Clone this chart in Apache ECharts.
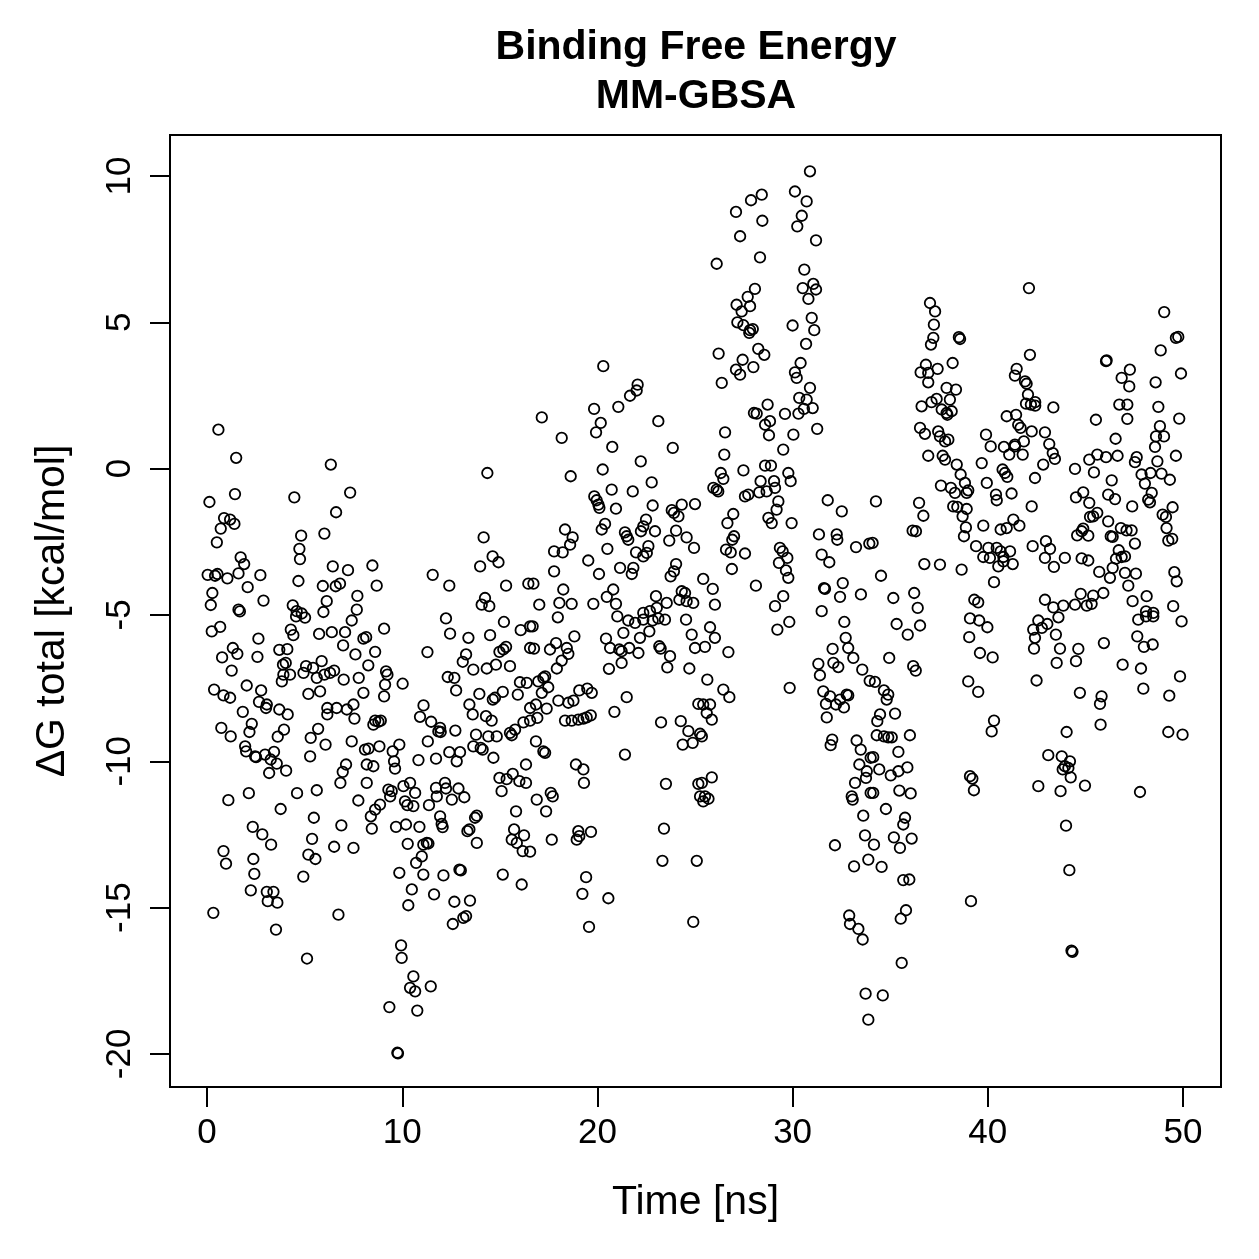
<!DOCTYPE html>
<html>
<head>
<meta charset="utf-8">
<title>Binding Free Energy MM-GBSA</title>
<script src="https://cdn.jsdelivr.net/npm/echarts@6/dist/echarts.min.js"></script>
<style>
  html, body { margin: 0; padding: 0; background: #fff; }
  #chart { width: 1259px; height: 1259px; }
</style>
</head>
<body>
<div id="chart"></div>
<script>
// [time (ns), dG total (kcal/mol)], grouped by time window
const frames00to08 = [
  [0.58,1.33],[1.49,0.37],[6.34,0.14],[7.33,-0.82],[4.47,-0.98],[0.12,-1.14],[1.43,-0.87],[6.61,-1.49],
  [0.87,-1.69],[1.18,-1.74],[1.40,-1.89],[0.70,-2.05],[0.50,-2.52],[4.82,-2.29],[6.01,-2.22],[4.73,-2.74],
  [4.76,-3.09],[1.72,-3.03],[1.90,-3.26],[6.44,-3.34],[7.22,-3.47],[0.03,-3.63],[0.53,-3.60],[0.41,-3.66],
  [1.04,-3.75],[1.61,-3.58],[2.73,-3.64],[4.68,-3.84],[2.08,-4.05],[5.93,-4.01],[6.59,-4.02],[6.81,-3.93],
  [0.27,-4.25],[7.70,-4.35],[2.89,-4.51],[6.13,-4.53],[0.19,-4.66],[1.61,-4.82],[1.68,-4.88],[4.39,-4.67],
  [4.59,-4.87],[4.85,-4.95],[5.96,-4.90],[7.67,-4.82],
  [4.56,-5.05],[5.02,-5.09],[7.41,-5.19],[0.24,-5.56],[0.67,-5.41],[4.29,-5.50],[4.42,-5.69],[5.74,-5.65],
  [6.39,-5.59],[7.07,-5.59],[6.97,-6.04],[2.63,-5.81],[1.32,-6.13],[1.55,-6.33],[0.77,-6.45],[2.58,-6.43],
  [3.70,-6.19],[4.11,-6.17],[7.60,-6.35],[4.03,-6.64],[3.89,-6.70],[5.87,-6.58],[5.07,-6.75],[5.43,-6.81],
  [6.51,-6.90],[6.30,-6.98],[1.26,-6.90],[4.94,-6.98],[5.62,-7.15],[6.01,-7.04],[3.91,-7.04],[4.25,-7.04],
  [3.83,-7.27],[7.00,-7.21],[7.77,-7.15],[0.36,-7.55],[2.03,-7.41],[2.77,-7.58],[0.84,-7.75],[1.18,-7.83],
  [5.19,-7.70],[5.79,-7.61],[2.66,-7.97],[3.06,-8.06],[3.02,-8.18],[3.70,-8.23],[4.13,-8.40],[6.16,-8.18],
  [6.64,-8.18],[6.16,-8.40],[7.16,-8.23],[7.50,-8.06],[7.55,-8.54],[1.83,-8.31],[2.29,-8.72],[2.17,-9.00],
  [0.73,-8.86],[1.21,-9.15],[3.94,-8.92],[3.62,-9.16],[5.69,-8.89],[5.31,-9.20],[6.07,-9.43],[7.41,-9.32],
  [1.95,-9.49],[2.00,-9.66],[2.46,-9.83],[2.51,-9.86],[2.97,-9.77],[3.43,-9.68],[3.26,-9.94],[3.57,-10.08],
  [3.18,-10.40],[4.05,-10.32],[5.28,-9.83],[7.12,-10.11],[6.95,-10.36],[6.83,-10.74],[2.14,-11.09],[1.09,-11.33],
  [4.61,-11.09],[5.62,-10.99],[3.77,-11.63],[7.75,-11.34],[5.47,-11.93],[6.88,-12.19],[2.34,-12.24],[2.83,-12.50],
  [3.28,-12.85],[5.38,-12.65],[6.51,-12.92],[7.50,-12.96],[0.84,-13.07],[0.97,-13.50],[2.37,-13.34],[2.42,-13.85],
  [5.19,-13.19],[5.55,-13.34],[4.93,-13.94],[2.24,-14.41],[3.06,-14.46],[3.40,-14.46],[3.11,-14.78],[3.60,-14.83],
  [0.32,-15.18],[6.73,-15.24],[3.53,-15.75],[5.12,-16.74]
];

const frames08to17 = [
  [14.36,-0.15],[14.17,-2.35],[14.63,-3.00],[14.93,-3.20],[13.99,-3.34],[8.47,-3.31],[8.69,-4.00],[11.56,-3.63],
  [12.41,-4.00],[15.32,-4.00],[16.46,-3.93],[14.24,-4.42],[14.07,-4.65],[14.46,-4.70],
  [12.24,-5.12],[15.21,-5.24],[16.07,-5.52],[16.55,-5.39],[9.07,-5.47],[12.45,-5.64],[13.39,-5.78],[14.50,-5.69],
  [8.01,-5.81],[8.15,-5.76],[8.61,-6.26],[11.29,-6.27],[15.32,-6.09],[15.18,-6.18],[14.98,-6.26],[16.55,-6.13],
  [13.27,-6.35],[13.10,-6.60],[13.64,-6.87],[14.33,-6.83],[14.80,-6.70],[15.52,-6.75],[8.26,-6.72],[9.17,-6.93],
  [9.24,-7.04],[9.12,-7.38],[9.07,-7.78],[10.02,-7.35],[12.33,-7.12],[12.67,-7.15],[12.76,-7.58],[13.95,-7.70],
  [14.75,-7.83],[14.64,-7.89],[15.15,-7.63],[15.92,-7.72],[16.03,-7.30],[16.38,-7.32],[8.01,-7.66],[11.09,-8.09],
  [10.91,-8.48],[11.48,-8.65],[11.94,-8.86],[11.85,-8.98],[11.97,-9.00],[12.72,-8.95],[13.44,-8.06],[13.61,-8.40],
  [14.29,-8.46],[14.58,-8.61],[16.21,-8.67],[16.55,-8.61],[16.55,-8.18],[8.61,-8.61],[8.78,-8.65],[8.90,-8.61],
  [8.52,-8.75],[13.78,-9.09],[14.41,-9.15],[14.84,-9.15],[15.52,-9.03],[15.61,-9.11],[15.78,-8.92],[11.31,-9.32],
  [13.64,-9.49],[14.02,-9.54],[14.12,-9.60],[14.67,-9.88],[12.41,-9.69],[12.96,-9.69],[12.79,-10.00],[11.73,-9.91],
  [10.83,-9.96],[9.85,-9.43],[9.51,-9.66],[9.58,-10.00],[9.63,-10.25],[8.83,-9.49],[8.09,-9.60],[8.27,-9.57],
  [8.18,-10.11],[8.52,-10.17],[8.18,-10.74],[16.34,-10.11],[14.98,-10.57],[15.35,-10.61],[15.66,-10.43],[16.00,-10.68],
  [16.34,-10.74],[15.09,-11.02],[9.29,-10.97],[9.46,-11.02],[9.38,-11.20],[10.06,-10.85],[10.40,-10.74],[10.66,-11.08],
  [10.14,-11.37],[10.26,-11.50],[10.57,-11.53],[8.86,-11.48],[8.61,-11.65],[8.39,-11.88],[8.44,-12.30],[11.73,-10.91],
  [12.19,-10.74],[12.24,-10.93],[11.77,-11.20],[12.54,-11.31],[12.88,-10.93],[13.18,-11.23],[11.37,-11.50],[11.94,-11.88],
  [12.02,-12.14],[12.07,-12.25],[13.82,-11.86],[13.73,-11.93],[13.34,-12.39],[13.44,-12.33],[13.82,-12.79],[15.83,-11.71],
  [15.73,-12.33],[15.61,-12.68],[15.87,-12.79],[16.24,-12.53],[16.17,-13.07],[16.55,-13.09],[9.68,-12.24],[10.19,-12.16],
  [10.88,-12.24],[10.28,-12.82],[11.08,-12.85],[11.26,-12.79],[11.34,-12.81],[11.00,-13.25],[10.71,-13.47],[9.85,-13.81],
  [11.08,-13.87],[12.11,-13.90],[12.93,-13.70],[13.00,-13.73],[15.15,-13.87],[16.12,-14.21],[10.49,-14.38],[11.63,-14.55],
  [10.31,-14.92],[12.67,-14.80],[13.47,-14.76],[13.27,-15.29],[13.13,-15.35],[12.59,-15.56],[9.94,-16.29],[9.97,-16.72],
  [10.57,-17.35],[10.40,-17.74],[10.66,-17.86],[11.46,-17.69],[9.34,-18.40],[10.77,-18.52],[9.75,-19.96],[9.78,-19.98]
];

const frames17to25 = [
  [20.30,3.50],[22.06,2.87],[22.01,2.67],[21.67,2.49],[19.83,2.04],[21.07,2.11],[20.17,1.56],[19.93,1.24],
  [17.15,1.75],[23.12,1.62],[18.17,1.05],[20.76,0.74],[23.86,0.71],[22.22,0.25],[20.27,-0.03],[18.63,-0.26],
  [22.78,-0.47],[20.73,-0.72],[21.81,-0.78],[19.84,-0.95],[19.96,-1.08],[20.05,-1.23],[20.10,-1.34],[20.95,-1.37],
  [22.83,-1.26],[23.81,-1.42],[23.92,-1.51],[24.15,-1.63],[24.32,-1.23],[25.00,-1.21],[18.34,-2.08],[18.73,-2.35],
  [18.60,-2.60],[18.22,-2.86],[17.78,-2.83],[20.39,-1.89],[20.22,-2.08],[21.41,-2.18],[21.50,-2.31],[21.58,-2.43],
  [22.49,-1.74],[22.35,-1.97],[22.23,-2.14],[22.95,-2.14],[24.03,-2.12],[23.68,-2.46],[24.57,-2.35],[24.95,-2.71],
  [20.51,-2.74],[22.61,-2.65],[22.53,-2.88],[22.35,-3.00],[21.98,-2.86],[19.53,-3.14],[17.78,-3.51],[20.08,-3.60],
  [21.16,-3.39],[21.84,-3.39],[21.76,-3.60],[24.03,-3.26],[23.92,-3.51],[23.75,-3.68],[16.72,-3.93],[18.25,-4.13],
  [20.81,-4.13],[20.48,-4.38],[17.02,-4.65],[18.05,-4.59],[18.68,-4.62],[19.79,-4.62],[20.95,-4.62],[23.00,-4.36],
  [23.55,-4.59],[24.32,-4.19],[24.49,-4.25],[24.20,-4.48],[24.57,-4.53],[24.91,-4.59],[22.69,-4.87],[23.04,-4.76],
  [22.35,-4.93],
  [17.97,-5.08],[21.02,-5.05],[16.68,-5.39],[21.58,-5.19],[21.93,-5.27],[22.35,-5.16],[22.83,-5.19],[23.12,-5.12],
  [23.46,-5.16],[22.66,-5.56],[22.18,-5.78],[24.54,-5.16],[21.33,-5.61],[20.44,-5.81],[20.65,-6.13],[21.12,-6.18],
  [21.24,-6.24],[21.63,-6.13],[22.10,-6.30],[21.24,-6.64],[20.59,-6.84],[23.17,-6.07],[23.24,-6.15],[23.72,-6.41],
  [23.58,-6.79],[24.83,-5.67],[25.00,-6.13],[24.71,-6.83],[18.82,-5.73],[18.43,-6.13],[18.51,-6.33],[18.17,-6.56],
  [17.92,-6.83],[17.88,-5.96],[17.57,-6.18],[16.75,-6.15],[17.32,-7.10],[17.23,-7.15],[17.48,-7.47],[17.15,-7.66],
  [16.97,-7.27],[18.00,-7.93],[18.51,-8.00],[18.77,-7.93],[19.07,-7.58],[19.48,-7.52],[19.71,-7.66],[16.85,-8.06],
  [17.40,-8.20],[16.92,-8.52],[18.34,-8.61],[18.68,-8.61],[19.02,-8.58],[19.28,-8.54],[19.45,-8.50],[19.66,-8.43],
  [21.50,-7.81],[20.87,-8.31],[23.26,-8.67],[24.27,-8.63],[24.66,-8.97],[24.37,-9.43],[24.88,-9.37],[25.26,-9.06],
  [25.17,-8.04],[16.85,-9.32],[17.23,-9.66],[17.32,-9.71],[18.90,-10.11],[19.28,-10.28],[19.31,-10.74],[21.41,-9.77],
  [23.51,-10.77],[25.17,-10.77],[25.26,-11.20],[16.89,-11.31],[17.37,-11.71],[17.61,-11.08],[17.71,-11.20],[19.02,-12.39],
  [19.07,-12.56],[18.94,-12.68],[19.67,-12.41],[17.66,-12.68],[23.41,-12.30],[23.33,-13.40],[25.09,-13.40],[19.42,-13.96],
  [19.23,-14.53],[20.56,-14.68],[19.57,-15.66],[24.91,-15.49]
];

const frames25to34 = [
  [30.89,10.16],[30.12,9.47],[30.72,9.13],[30.47,8.64],[30.24,8.28],[31.20,7.80],[28.42,9.36],[27.87,9.17],
  [27.10,8.77],[28.45,8.47],[27.31,7.94],[26.11,7.00],[28.33,7.22],[30.60,6.80],[30.52,6.17],[31.06,6.31],
  [31.20,6.12],[30.81,5.80],[28.07,6.14],[27.70,5.87],[27.13,5.60],[27.39,5.37],[27.82,5.55],[30.98,5.15],
  [31.11,4.73],[30.00,4.89],[27.17,5.00],[27.48,4.90],[27.82,4.73],[27.96,4.77],[27.78,4.64],[30.69,4.26],
  [26.21,3.93],[28.24,4.09],[28.55,3.89],[27.44,3.72],[27.10,3.38],[27.31,3.21],[27.99,3.47],[30.41,3.61],
  [30.12,3.29],[30.21,3.10],[26.37,2.93],[30.89,2.76],[30.34,2.42],[30.72,2.36],[31.03,2.07],[30.30,1.88],
  [30.58,2.04],[28.72,2.19],[28.02,1.90],[28.16,1.88],[29.61,1.87],[28.84,1.62],[28.59,1.50],[28.79,1.14],
  [30.04,1.16],[31.26,1.36],[26.54,1.24],[29.52,0.65],[26.50,0.48],[28.59,0.10],[28.89,0.10],[28.36,-0.43],
  [29.05,-0.43],[29.78,-0.15],[29.90,-0.43],[27.48,-0.06],[26.32,-0.15],[26.45,-0.35],[25.94,-0.66],[26.11,-0.72],
  [26.19,-0.78],[27.56,-0.95],[27.73,-0.89],[28.29,-0.81],[28.67,-0.78],[29.10,-0.66],[29.27,-1.12],[29.18,-1.40],
  [28.76,-1.68],[28.93,-1.86],[29.95,-1.86],[31.80,-1.08],[32.52,-1.46],[26.96,-1.55],[26.66,-1.86],[27.00,-2.31],
  [26.91,-2.43],[26.59,-2.77],[26.83,-2.86],[27.56,-2.90],[26.89,-3.43],[29.35,-2.71],[29.49,-2.83],[29.73,-3.05],
  [29.30,-3.22],[29.66,-3.48],[29.78,-3.73],[31.35,-2.25],[32.26,-2.25],[32.29,-2.43],[33.25,-2.68],[33.93,-2.56],
  [31.49,-2.94],[31.88,-3.20],[25.42,-3.77],[25.91,-4.11],[26.02,-4.65],[28.12,-4.00],[29.52,-4.36],[29.10,-4.70],
  [31.61,-4.08],[31.66,-4.11],[32.57,-3.91],[32.43,-4.38],[33.50,-4.30],[31.49,-4.87],
  [29.22,-5.50],[29.83,-5.24],[25.77,-5.42],[26.02,-5.78],[25.51,-6.09],[26.71,-6.27],[25.63,-7.21],[26.45,-7.55],
  [26.76,-7.81],[25.42,-8.06],[25.77,-8.06],[25.60,-8.35],[25.86,-8.58],[25.35,-9.15],[29.85,-7.49],[32.65,-5.24],
  [32.72,-5.78],[32.85,-6.13],[32.05,-6.16],[33.11,-6.47],[33.57,-6.87],[31.32,-6.67],[31.40,-7.06],[32.09,-6.64],
  [32.34,-6.78],[31.57,-7.61],[31.92,-7.78],[31.71,-8.04],[32.22,-8.06],[32.43,-7.89],[32.63,-8.16],[32.77,-7.72],
  [32.85,-7.75],[31.75,-8.50],[33.95,-7.25],[32.03,-9.26],[31.95,-9.45],[33.28,-9.29],[33.49,-9.60],[33.42,-10.11],
  [33.80,-10.34],[33.76,-10.57],[33.20,-10.74],[34.00,-9.88],[33.03,-11.20],[33.08,-11.31],[34.00,-11.08],[25.86,-10.55],
  [25.35,-10.74],[25.51,-11.20],[25.69,-11.28],[25.42,-11.37],[33.62,-11.86],[32.17,-12.87],[33.71,-12.53],[33.15,-13.59],
  [33.88,-13.36],[32.90,-15.27],[32.94,-15.56],[33.37,-15.73],[33.59,-16.09],[33.74,-17.94],[33.88,-18.83]
];

const frames34to43 = [
  [42.11,6.17],[37.04,5.66],[37.30,5.37],[37.24,4.92],[37.21,4.47],[37.09,4.24],[38.52,4.49],[38.58,4.43],
  [42.16,3.89],[36.83,3.55],[36.56,3.29],[36.95,3.27],[37.43,3.41],[36.95,2.95],[38.20,3.61],[41.48,3.41],
  [41.39,3.18],[41.91,2.98],[41.99,2.90],[37.89,2.76],[38.37,2.70],[37.38,2.38],[37.12,2.27],[38.06,2.36],
  [36.61,2.13],[37.64,2.02],[37.89,1.90],[37.93,1.84],[38.15,1.96],[42.06,2.53],[41.96,2.22],[42.21,2.19],
  [42.43,2.27],[42.43,2.15],[40.97,1.79],[41.45,1.84],[41.56,1.50],[41.68,1.39],[42.25,1.27],[41.85,0.93],
  [41.39,0.76],[41.79,0.48],[36.53,1.39],[36.78,1.19],[37.46,1.27],[37.55,1.10],[37.81,0.93],[37.98,0.99],
  [36.95,0.44],[37.69,0.44],[37.81,0.31],[38.41,0.14],[38.61,-0.20],[38.83,-0.49],[39.00,-0.74],[38.92,-0.83],
  [39.91,1.16],[40.15,0.76],[40.83,0.74],[41.10,0.48],[41.39,0.82],[39.69,0.19],[40.76,-0.03],[40.88,-0.15],
  [41.00,-0.28],[39.95,-0.49],[40.42,-0.89],[40.46,-1.08],[41.22,-0.85],[42.42,-0.32],[37.60,-0.58],[38.11,-0.66],
  [38.32,-0.83],[38.23,-1.29],[38.44,-1.31],[38.92,-1.38],[38.71,-1.63],[38.88,-2.01],[38.78,-2.31],[36.48,-1.17],
  [36.70,-1.61],[36.15,-2.12],[36.32,-2.14],[34.27,-1.12],[34.10,-2.54],[34.53,-3.66],[35.16,-4.42],[36.23,-4.25],
  [36.41,-4.76],[36.75,-3.26],[37.55,-3.28],[38.66,-3.45],[39.77,-1.95],[39.40,-2.65],[39.77,-3.02],[40.03,-2.71],
  [40.11,-3.05],[40.66,-2.08],[40.97,-2.03],[41.31,-1.74],[41.62,-1.95],[42.25,-1.29],[42.30,-2.65],[40.46,-2.71],
  [40.66,-2.83],[40.80,-3.02],[41.14,-2.83],[41.28,-3.26],[40.54,-3.34],[40.80,-3.17],[40.32,-3.88],[39.31,-4.48],
  [39.51,-4.57],
  [35.33,-5.31],[35.90,-5.67],[36.53,-5.36],[34.95,-6.47],[36.18,-6.75],[36.31,-6.90],[34.22,-7.29],[34.68,-7.58],
  [34.90,-7.72],[34.82,-7.89],[35.25,-8.37],[34.48,-8.40],[34.34,-8.63],[34.31,-9.11],[34.68,-9.15],[34.90,-9.18],
  [35.08,-9.18],[36.01,-9.11],[35.42,-9.68],[34.13,-9.86],[34.44,-10.28],[35.03,-10.48],[35.42,-10.34],[35.88,-10.21],
  [34.13,-11.08],[35.47,-11.00],[36.05,-11.10],[34.78,-11.63],[35.76,-11.93],[35.67,-12.16],[35.19,-12.60],[36.10,-12.64],
  [35.50,-12.96],[34.17,-12.85],[34.56,-13.61],[35.67,-14.06],[35.98,-14.04],[35.81,-15.09],[35.54,-15.38],[35.59,-16.89],
  [34.62,-18.00],[39.09,-5.12],[39.56,-5.19],[39.98,-5.42],[39.05,-5.76],[39.60,-6.30],[40.25,-6.45],[39.00,-7.27],
  [39.51,-7.63],[40.32,-8.61],[40.20,-8.98],[39.09,-10.51],[39.21,-10.59],[39.29,-10.99],[39.14,-14.78],[42.33,-5.50],
  [42.59,-5.19],[42.42,-5.78],[42.37,-6.15],[42.50,-7.24],[42.59,-10.85]
];

const frames43to50 = [
  [49.04,5.35],[49.64,4.47],[49.76,4.50],[48.86,4.04],[46.06,3.67],[46.09,3.70],[47.28,3.38],[46.86,3.10],
  [47.25,2.81],[48.60,2.95],[49.90,3.25],[43.36,2.09],[45.54,1.67],[46.74,2.19],[47.15,2.19],[47.15,1.70],
  [48.74,2.11],[49.81,1.71],[48.82,1.45],[48.62,1.10],[49.03,1.10],[48.57,0.74],[48.69,0.25],[49.64,0.44],
  [46.55,1.02],[42.93,1.24],[43.15,0.84],[43.33,0.53],[43.44,0.33],[42.84,0.14],[45.20,0.31],[45.61,0.48],
  [46.06,0.39],[46.65,0.44],[45.44,-0.13],[44.47,-0.01],[47.63,0.39],[47.54,0.22],[47.88,-0.20],[48.34,-0.15],
  [48.90,-0.17],[49.33,-0.38],[48.05,-0.51],[46.35,-0.40],[48.40,-0.83],[48.22,-1.06],[48.31,-1.15],[44.52,-0.98],
  [44.89,-0.81],[45.20,-1.17],[45.40,-1.63],[45.61,-1.51],[45.24,-1.65],[46.17,-0.89],[46.52,-1.04],[47.40,-1.29],
  [49.47,-1.32],[48.96,-1.57],[49.13,-1.65],[49.16,-2.03],[49.25,-2.46],[49.45,-2.40],[46.17,-1.80],[46.82,-2.03],
  [47.11,-2.11],[47.37,-2.11],[47.54,-2.56],[46.30,-2.31],[46.40,-2.33],[44.89,-2.05],[44.81,-2.14],[44.58,-2.28],
  [45.15,-2.29],[46.71,-2.79],[46.57,-3.08],[46.86,-3.02],[47.03,-3.00],[46.40,-3.39],[45.71,-3.53],[46.26,-3.73],
  [47.03,-3.56],[47.59,-3.59],[47.20,-4.00],[49.56,-3.54],[49.68,-3.85],[42.98,-2.48],[43.19,-2.74],[42.93,-3.05],
  [43.39,-3.36],[43.95,-3.05],[44.81,-3.07],[45.15,-3.14],[44.76,-4.28],[45.40,-4.34],[45.32,-4.62],[45.92,-4.25],
  [45.07,-4.68],[44.47,-4.65],[43.87,-4.68],[43.36,-4.74],[42.93,-4.48],[47.42,-4.53],[48.14,-4.36],[48.11,-4.88],
  [48.48,-4.93],[49.50,-4.70],
  [43.62,-5.08],[43.05,-5.31],[42.77,-5.44],[43.49,-5.67],[43.70,-6.15],[43.53,-6.64],[44.64,-6.16],[44.52,-6.58],
  [45.95,-5.96],[47.71,-5.16],[48.11,-5.05],[48.48,-5.05],[47.66,-5.73],[48.00,-6.09],[48.45,-6.01],[49.93,-5.22],
  [46.91,-6.70],[47.85,-6.83],[47.97,-7.52],[49.30,-7.76],[49.85,-7.10],[44.72,-7.66],[45.83,-7.78],[45.75,-8.04],
  [45.78,-8.75],[44.04,-9.00],[49.25,-9.00],[49.98,-9.09],[43.10,-9.79],[43.79,-9.83],[44.21,-10.00],[43.95,-10.17],
  [43.84,-10.28],[44.13,-10.23],[44.25,-10.55],[43.73,-11.02],[44.98,-10.83],[47.80,-11.05],[44.01,-12.20],[44.18,-13.72],
  [44.29,-16.47],[44.34,-16.51]
];

const xTicks = [0, 10, 20, 30, 40, 50];
const yTicks = [-20, -15, -10, -5, 0, 5, 10];

const FONT = '"Liberation Sans", Arial, Helvetica, sans-serif';

const points = [].concat(frames00to08, frames08to17, frames17to25,
                         frames25to34, frames34to43, frames43to50);

const chart = echarts.init(document.getElementById('chart'), null, { renderer: 'canvas' });

const option = {
  animation: false,
  backgroundColor: '#ffffff',
  textStyle: { fontFamily: FONT, color: '#000' },
  graphic: [
    {
      type: 'text',
      x: 696,
      y: 23,
      style: {
        text: 'Binding Free Energy\nMM-GBSA',
        align: 'center',
        verticalAlign: 'top',
        lineHeight: 49,
        font: 'bold 41px ' + FONT,
        fill: '#000'
      }
    }
  ],
  grid: {
    left: 170, top: 135, width: 1051, height: 952,
    show: true, borderColor: '#000', borderWidth: 2,
    containLabel: false
  },
  xAxis: {
    type: 'value',
    min: -1.9,
    max: 51.95,
    name: 'Time [ns]',
    nameLocation: 'middle',
    nameGap: 95,
    nameTextStyle: { fontSize: 41, fontFamily: FONT, color: '#000' },
    axisLine: { show: true, onZero: false, lineStyle: { color: '#000', width: 2 } },
    axisTick: { show: true, inside: false, length: 20, lineStyle: { color: '#000', width: 2 }, customValues: xTicks },
    axisLabel: { show: true, fontSize: 35, margin: 29, color: '#000', fontFamily: FONT, customValues: xTicks },
    splitLine: { show: false }
  },
  yAxis: {
    type: 'value',
    min: -21.13,
    max: 11.4,
    name: 'ΔG total [kcal/mol]',
    nameLocation: 'middle',
    nameGap: 97,
    nameRotate: 90,
    nameTextStyle: { fontSize: 41, fontFamily: FONT, color: '#000' },
    axisLine: { show: true, onZero: false, lineStyle: { color: '#000', width: 2 } },
    axisTick: { show: true, inside: false, length: 20, lineStyle: { color: '#000', width: 2 }, customValues: yTicks },
    axisLabel: { show: true, rotate: 90, fontSize: 35, margin: 32, color: '#000', fontFamily: FONT, customValues: yTicks },
    splitLine: { show: false }
  },
  series: [
    {
      type: 'scatter',
      data: points,
      symbol: 'circle',
      symbolSize: 10.5,
      large: false,
      itemStyle: { color: 'rgba(0,0,0,0)', borderColor: '#000', borderWidth: 1.8, opacity: 1 },
      emphasis: { disabled: true }
    }
  ]
};

chart.setOption(option);
</script>
</body>
</html>
